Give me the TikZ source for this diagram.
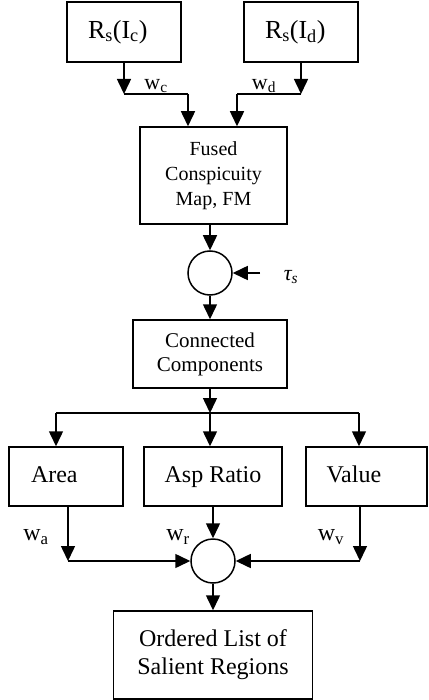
\documentclass[tikz,border=0pt]{standalone}
\usepackage{fontspec}
\setmainfont{Liberation Serif}
\usetikzlibrary{arrows.meta}

\begin{document}
\begin{tikzpicture}
  [x=1pt,y=-1pt,line width=1.5pt,>={Triangle[width=14pt,length=15pt]},
   every node/.style={font=\fontsize{24}{28}\selectfont},
   blk/.style={draw,rectangle,inner sep=0pt,align=center},
   rowbox/.style={blk,minimum height=59pt,text height=16pt,text depth=5pt},
   sumdot/.style={draw,circle,minimum size=44pt,inner sep=0pt},
   wlab/.style={inner sep=0pt}]
  \useasboundingbox (0,0) rectangle (428,700);
  \node[blk,minimum width=114pt,minimum height=60pt,text width=72pt,align=left,font=\fontsize{26}{28}\selectfont] (rc) at (124,32) {R\textsubscript{s}(I\textsubscript{c})};
  \node[blk,minimum width=114pt,minimum height=60pt,text width=72pt,align=left,font=\fontsize{26}{28}\selectfont] (rd) at (301,32) {R\textsubscript{s}(I\textsubscript{d})};
  \node[blk,minimum width=147pt,minimum height=97pt,font=\fontsize{20}{25}\selectfont] (fm) at (213.5,175.5) {Fused\\Conspicuity\\Map, FM};
  \node[sumdot] (thr) at (210,273) {};
  \node[blk,minimum width=154pt,minimum height=68pt,font=\fontsize{21}{24}\selectfont] (cc) at (210,354) {Connected\\Components};
  \node[rowbox,minimum width=114pt,text width=70pt,align=left] (area) at (66,476.5) {Area};
  \node[rowbox,minimum width=138pt] (asp) at (213,476.5) {Asp Ratio};
  \node[rowbox,minimum width=121pt,text width=80pt,align=left] (val) at (366.5,476.5) {Value};
  \node[sumdot] (sum) at (213,561) {};
  \node[blk,minimum width=199pt,minimum height=88pt] (out) at (213,655) {Ordered List of\\Salient Regions};

  \node[wlab,font=\fontsize{22}{25}\selectfont] (wc) at (156,86) {w\textsubscript{c}};
  \node[wlab,font=\fontsize{22}{25}\selectfont] (wd) at (264,86) {w\textsubscript{d}};
  \node[wlab] (tau) at (291,277) {\fontsize{22}{25}\selectfont\itshape τ\textsubscript{s}};
  \node[wlab] (wa) at (36,537) {w\textsubscript{a}};
  \node[wlab] (wr) at (178,537) {w\textsubscript{r}};
  \node[wlab] (wv) at (331,537) {w\textsubscript{v}};

  \coordinate (c1) at (124,94);
  \coordinate (c2) at (188,94);
  \coordinate (d1) at (301,94);
  \coordinate (d2) at (237,94);
  \coordinate (ts) at (260,273);
  \coordinate (j) at (210,413);
  \coordinate (jl) at (56,413);
  \coordinate (jr) at (359,413);
  \coordinate (ka) at (68,561);
  \coordinate (kv) at (360,561);

  \foreach \from/\to in {rc/c1,rd/d1,ts/thr,thr/cc,cc/j,asp/sum,ka/sum,kv/sum,sum/out}
    \draw[->] (\from) -- (\to);
  \draw (c1) -- (c2);
  \draw[->] (c2) -- (fm.north -| c2);
  \draw (d1) -- (d2);
  \draw[->] (d2) -- (fm.north -| d2);
  \draw[->] (fm.south -| thr) -- (thr);
  \draw (jl) -- (jr);
  \draw[->] (jl) -- (area.north -| jl);
  \draw[->] (j) -- (asp.north -| j);
  \draw[->] (jr) -- (val.north -| jr);
  \draw[->] (area.south -| ka) -- (ka);
  \draw[->] (val.south -| kv) -- (kv);

\end{tikzpicture}
\end{document}
